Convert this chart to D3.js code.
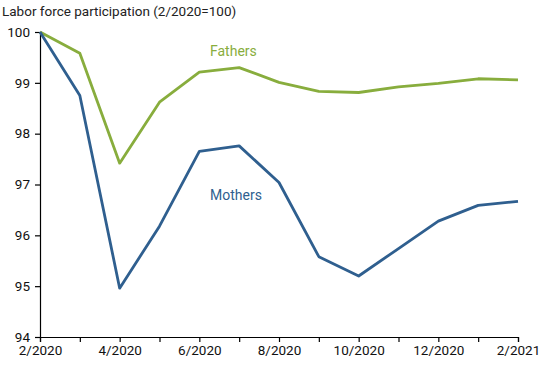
<!DOCTYPE html>
<html>
<head>
<meta charset="utf-8">
<script src="https://cdn.jsdelivr.net/npm/d3@7"></script>
<style>
  body { margin: 0; background: #fff; }
  text { font-family: Roboto, "Noto Sans", sans-serif; }
</style>
</head>
<body>
<div id="main"></div>
<script>
// data
const months = ['2/2020', '3/2020', '4/2020', '5/2020', '6/2020', '7/2020', '8/2020',
  '9/2020', '10/2020', '11/2020', '12/2020', '1/2021', '2/2021'];
const fathers = [100, 99.58, 97.42, 98.62, 99.21, 99.30, 99.01, 98.83, 98.81, 98.92, 98.99, 99.08, 99.06];
const mothers = [100, 98.75, 94.96, 96.18, 97.65, 97.76, 97.04, 95.58, 95.20, 95.74, 96.28, 96.59, 96.67];
const yTicks = [94, 95, 96, 97, 98, 99, 100];

const svgWidth = 550;
const svgHeight = 365;
const margin = { t: 32, r: 32, b: 28, l: 40 };

const svg = d3.select('#main')
  .append('svg')
  .attr('width', svgWidth)
  .attr('height', svgHeight);

const x = d3.scaleLinear()
  .domain([0, months.length - 1])
  .range([margin.l, svgWidth - margin.r]);

const y = d3.scaleLinear()
  .domain([94, 100])
  .range([svgHeight - margin.b, margin.t]);

// title
svg.append('text')
  .attr('x', 2)
  .attr('y', 16)
  .style('font-size', '13.5px')
  .attr('fill', '#222')
  .text('Labor force participation (2/2020=100)');

// y axis
const yAxis = d3.axisLeft(y)
  .tickValues(yTicks)
  .tickSize(5)
  .tickPadding(5)
  .tickFormat(d3.format('d'));

svg.append('g')
  .attr('class', 'y axis')
  .attr('transform', 'translate(' + margin.l + ',0)')
  .call(yAxis);

// x axis: tick every month, label every other month
const xAxis = d3.axisBottom(x)
  .tickValues(d3.range(months.length))
  .tickSize(5)
  .tickPadding(3)
  .tickFormat((d, i) => i % 2 == 0 ? months[i] : '');

svg.append('g')
  .attr('class', 'x axis')
  .attr('transform', 'translate(0,' + (svgHeight - margin.b) + ')')
  .call(xAxis);

svg.selectAll('.axis path, .axis line')
  .attr('stroke', '#000')
  .attr('stroke-width', 1.2);
svg.selectAll('.axis text')
  .style('font-size', '13.5px')
  .attr('fill', '#111');

// lines
const line = d3.line()
  .x((d, i) => x(i))
  .y(d => y(d));

const series = [
  { name: 'Fathers', values: fathers, color: '#88ad3d', lx: 210, ly: 56 },
  { name: 'Mothers', values: mothers, color: '#2f5f8f', lx: 210, ly: 200 }
];

series.forEach(s => {
  svg.append('path')
    .datum(s.values)
    .attr('fill', 'none')
    .attr('stroke', s.color)
    .attr('stroke-width', 2.8)
    .attr('stroke-linejoin', 'round')
    .attr('d', line);

  svg.append('text')
    .attr('x', s.lx)
    .attr('y', s.ly)
    .style('font-size', '14px')
    .attr('fill', s.color)
    .text(s.name);
});
</script>
</body>
</html>
